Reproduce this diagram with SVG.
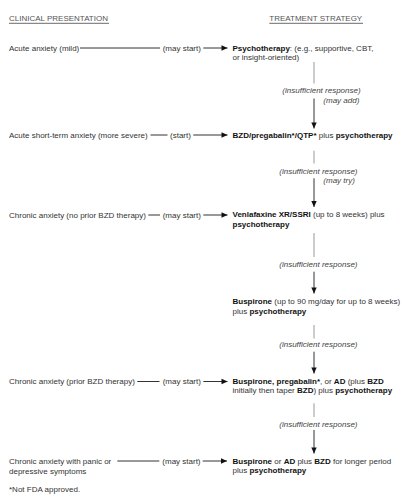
<svg xmlns="http://www.w3.org/2000/svg" width="406" height="500" viewBox="0 0 406 500">
<style>
text{font-family:"Liberation Sans",Arial,sans-serif;font-size:8px;fill:#333}
.b{font-weight:bold;fill:#111}
.i{font-style:italic;fill:#444}
.h{fill:#555}
.ln{stroke:#333;stroke-width:1;fill:none}
.up{stroke:#999;stroke-width:1;fill:none}
.ul{stroke:#888;stroke-width:1.3}
</style>
<defs>
<marker id="ah" markerUnits="userSpaceOnUse" markerWidth="8" markerHeight="8" viewBox="0 0 8 8" refX="7" refY="4" orient="auto">
<path d="M1,1.3 L7,4 L1,6.7 Z" fill="#111"/>
</marker>
</defs>
<g id="headers">
<text x="9" y="20.5" class="h">CLINICAL PRESENTATION</text>
<line x1="9" y1="23.3" x2="109" y2="23.3" class="ul"/>
<text x="269.3" y="20.5" class="h">TREATMENT STRATEGY</text>
<line x1="269.3" y1="23.3" x2="363" y2="23.3" class="ul"/>
</g>
<g id="c1"><text x="9" y="50.7">Acute anxiety (mild)</text></g>
<g id="c2"><text x="9" y="137.5">Acute short-term anxiety (more severe)</text></g>
<g id="c3"><text x="9" y="217.6">Chronic anxiety (no prior BZD therapy)</text></g>
<g id="c4"><text x="9" y="384.3">Chronic anxiety (prior BZD therapy)</text></g>
<g id="c5"><text x="9" y="463.6">Chronic anxiety with panic or</text><text x="9" y="473.5">depressive symptoms</text></g>
<g id="t1"><text x="232.5" y="50.5"><tspan class="b">Psychotherapy</tspan>: (e.g., supportive, CBT,</text><text x="232.5" y="60.2">or insight-oriented)</text></g>
<g id="t2"><text x="232.5" y="137.5"><tspan class="b">BZD/pregabalin*/QTP*</tspan> plus <tspan class="b">psychotherapy</tspan></text></g>
<g id="t3"><text x="232.5" y="217.4"><tspan class="b">Venlafaxine XR/SSRI</tspan> (up to 8 weeks) plus</text><text x="232.5" y="227" class="b">psychotherapy</text></g>
<g id="t4"><text x="232.5" y="304.2"><tspan class="b">Buspirone</tspan> (up to 90 mg/day for up to 8 weeks)</text><text x="232.5" y="313.6">plus <tspan class="b">psychotherapy</tspan></text></g>
<g id="t5"><text x="232.5" y="383.5"><tspan class="b">Buspirone, pregabalin*</tspan>, or <tspan class="b">AD</tspan> (plus <tspan class="b">BZD</tspan></text><text x="232.5" y="393">initially then taper <tspan class="b">BZD</tspan>) plus <tspan class="b">psychotherapy</tspan></text></g>
<g id="t6"><text x="232.5" y="463.5"><tspan class="b">Buspirone</tspan> or <tspan class="b">AD</tspan> plus <tspan class="b">BZD</tspan> for longer period</text><text x="232.5" y="473">plus <tspan class="b">psychotherapy</tspan></text></g>
<g id="connectors">
<line x1="80" y1="48" x2="160" y2="48" class="ln"/>
<text x="162.7" y="50.7">(may start)</text>
<line x1="203.3" y1="48" x2="227.5" y2="48" class="ln" marker-end="url(#ah)"/>
<line x1="150.5" y1="135" x2="167.5" y2="135" class="ln"/>
<text x="170" y="137.5">(start)</text>
<line x1="193.3" y1="135" x2="227.5" y2="135" class="ln" marker-end="url(#ah)"/>
<line x1="148.3" y1="215" x2="160" y2="215" class="ln"/>
<text x="162.7" y="217.6">(may start)</text>
<line x1="203.3" y1="215" x2="227.5" y2="215" class="ln" marker-end="url(#ah)"/>
<line x1="137.3" y1="381.5" x2="159.5" y2="381.5" class="ln"/>
<text x="162.7" y="384.2">(may start)</text>
<line x1="203.3" y1="381.5" x2="227.5" y2="381.5" class="ln" marker-end="url(#ah)"/>
<line x1="117.3" y1="461" x2="159.3" y2="461" class="ln"/>
<text x="162.3" y="463.6">(may start)</text>
<line x1="202.7" y1="461" x2="227" y2="461" class="ln" marker-end="url(#ah)"/>
<line x1="314" y1="62" x2="314" y2="83.5" class="up"/>
<text x="321.5" y="93.3" class="i" text-anchor="middle">(insufficient response)</text>
<text x="323.3" y="103.3" class="i">(may add)</text>
<line x1="314" y1="98.5" x2="314" y2="128.5" class="ln" marker-end="url(#ah)"/>
<line x1="314" y1="150.7" x2="314" y2="163.5" class="up"/>
<text x="318.4" y="174" class="i" text-anchor="middle">(insufficient response)</text>
<text x="323.3" y="182.7" class="i">(may try)</text>
<line x1="314" y1="178.3" x2="314" y2="207" class="ln" marker-end="url(#ah)"/>
<line x1="314" y1="233" x2="314" y2="257" class="up"/>
<text x="318.4" y="267.3" class="i" text-anchor="middle">(insufficient response)</text>
<line x1="314" y1="271.7" x2="314" y2="293.5" class="ln" marker-end="url(#ah)"/>
<line x1="314" y1="325" x2="314" y2="338.5" class="up"/>
<text x="318.4" y="347.3" class="i" text-anchor="middle">(insufficient response)</text>
<line x1="314" y1="351.7" x2="314" y2="373.5" class="ln" marker-end="url(#ah)"/>
<line x1="314" y1="403.3" x2="314" y2="417" class="up"/>
<text x="318.4" y="426.7" class="i" text-anchor="middle">(insufficient response)</text>
<line x1="314" y1="430" x2="314" y2="453.5" class="ln" marker-end="url(#ah)"/>
</g>
<g id="footnote"><text x="9" y="491.7">*Not FDA approved.</text></g>
</svg>
